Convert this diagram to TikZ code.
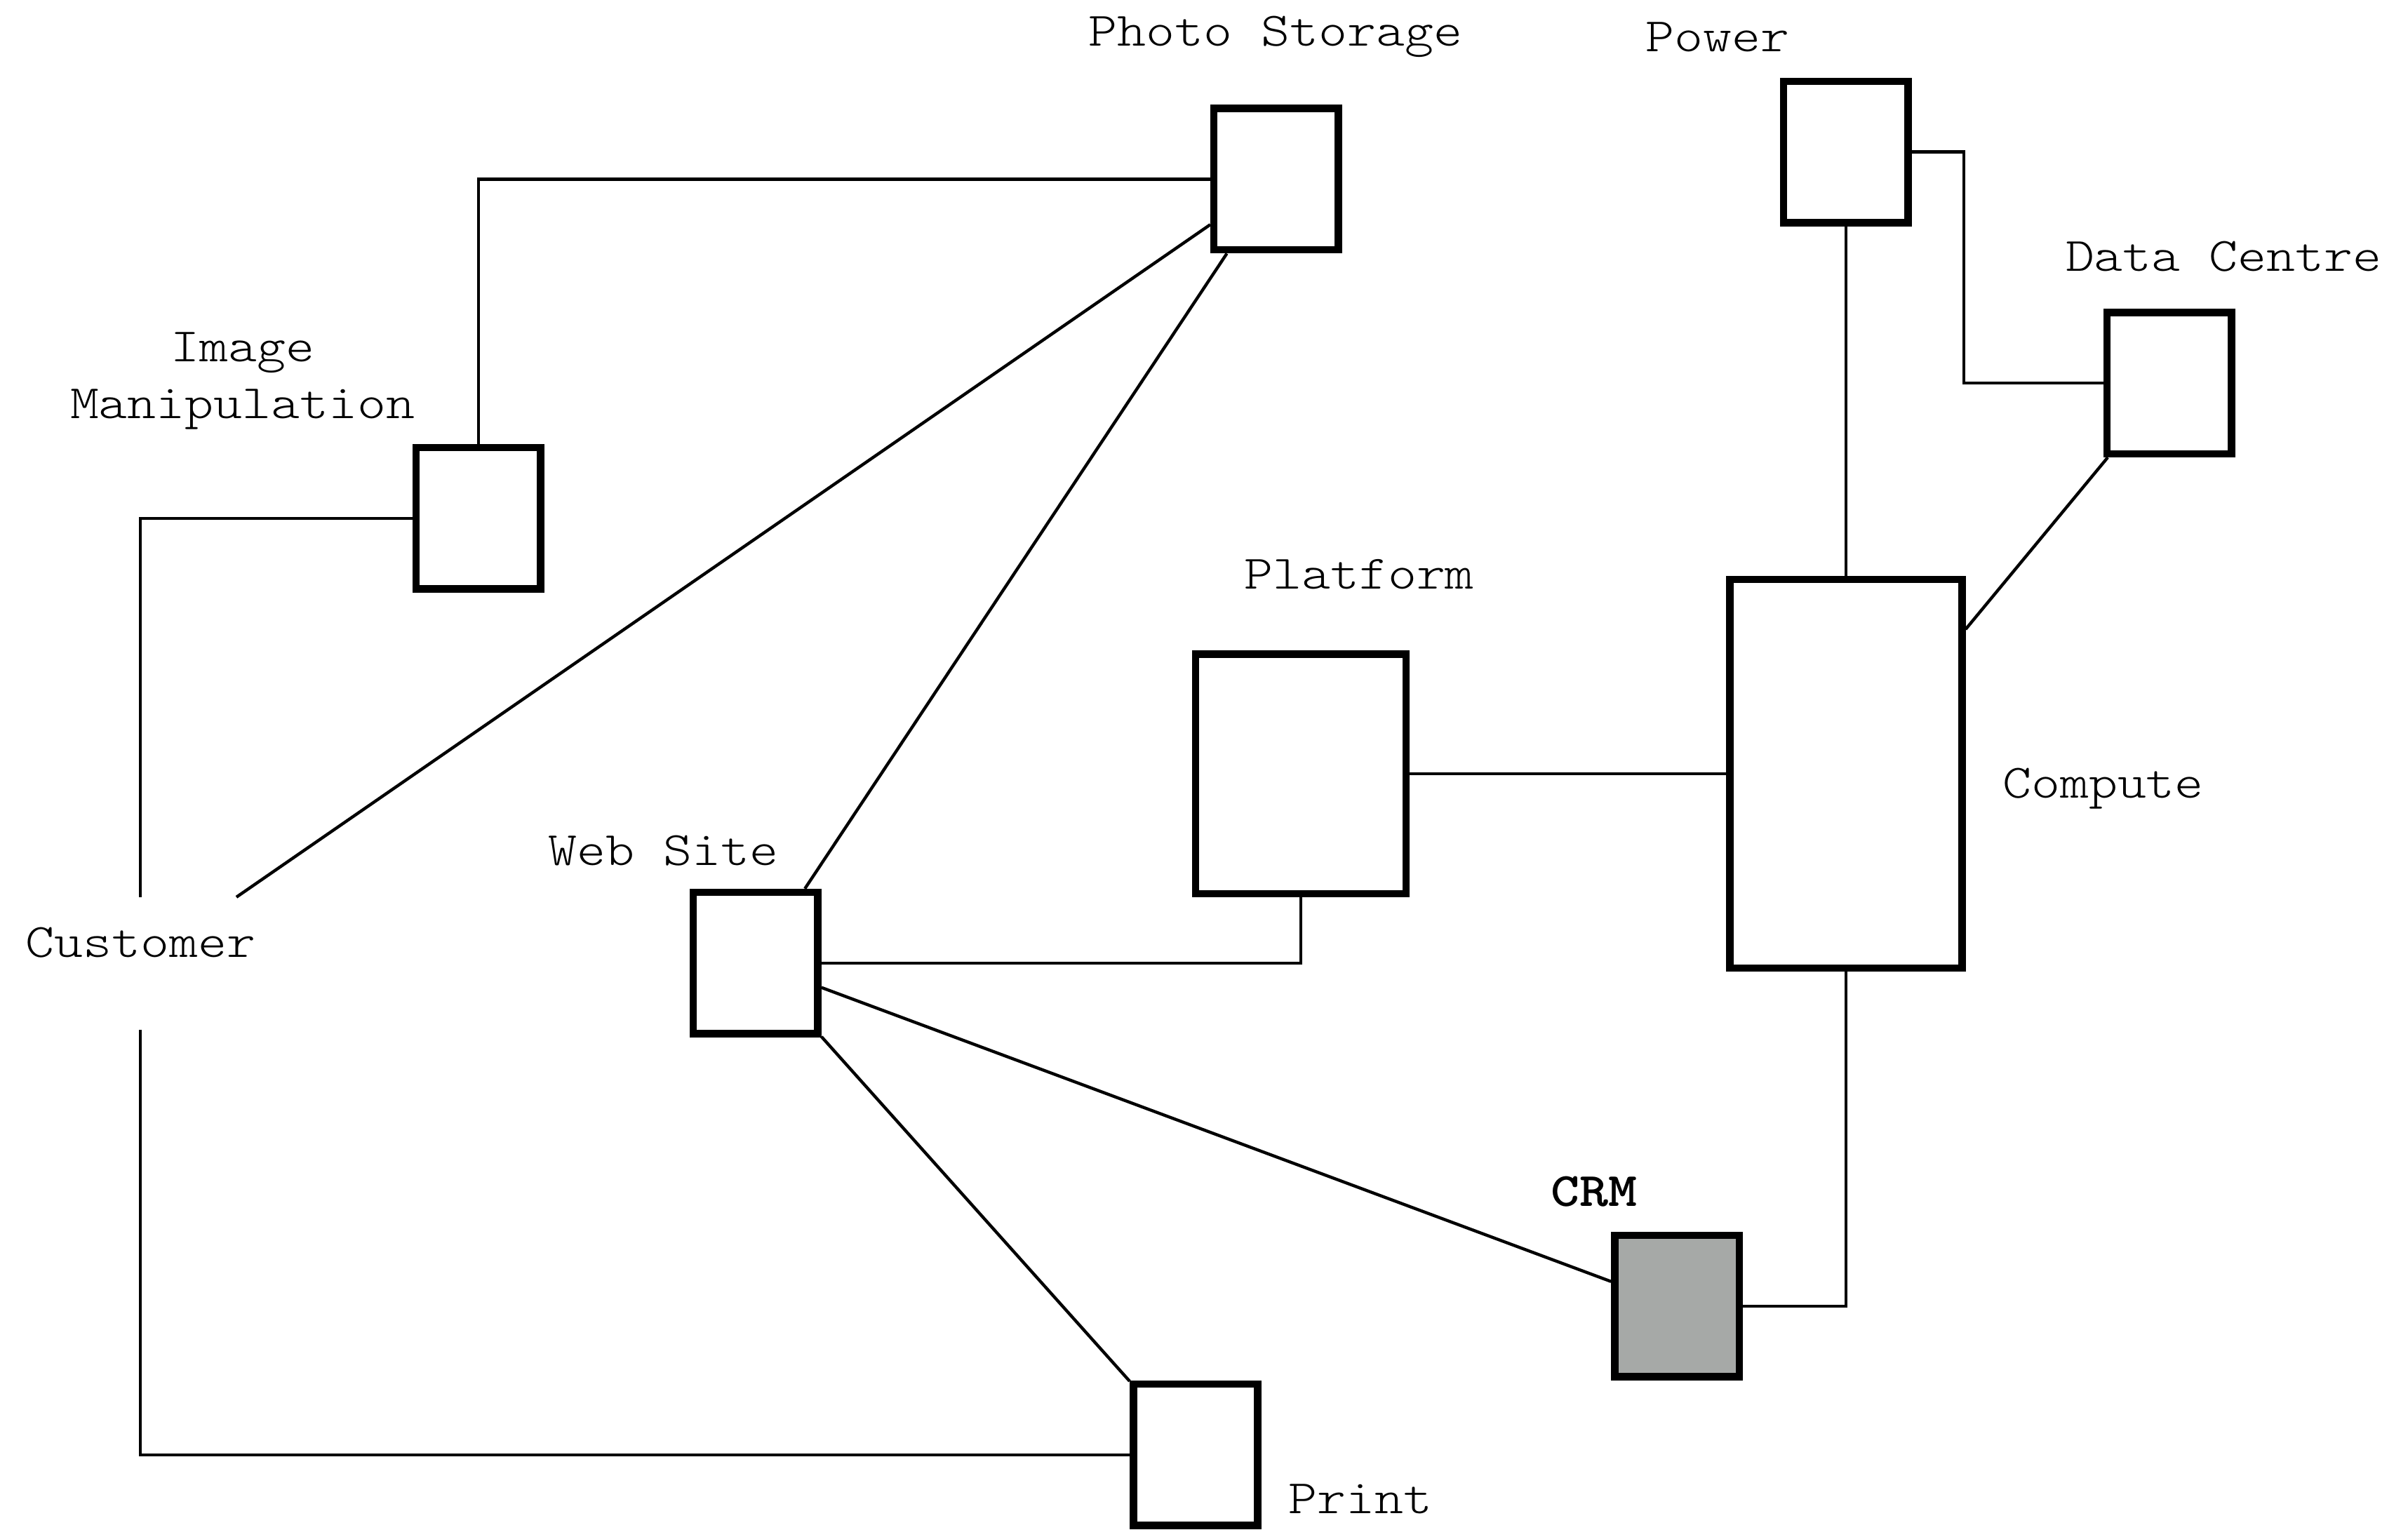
\documentclass[tikz,border=0pt]{standalone}
\usepackage{fontspec}
\newfontfamily\labelfont{Latin Modern Mono Light}[FakeStretch=1.143]
\usetikzlibrary{calc}
\definecolor{crmgray}{RGB}{166,169,167}
\begin{document}
\begin{tikzpicture}[x=0.01cm,y=-0.01cm,
  box/.style={draw=black, line width=0.048cm, fill=white, minimum width=0.81cm, minimum height=0.92cm, inner sep=0pt},
  conn/.style={line width=0.02cm, draw=black},
  lbl/.style={font=\labelfont\fontsize{8.87pt}{10.53pt}\selectfont, anchor=base, inner sep=0pt},
]
\useasboundingbox (0,0) rectangle (1568,1000.6);
% boxes
\node[box] (photo) at (831,116.7) {};
\node[box] (power) at (1202,99) {};
\node[box] (datac) at (1412.5,249.5) {};
\node[box] (image) at (311.5,337.5) {};
\node[box, minimum width=1.37cm, minimum height=1.56cm] (platform) at (847,504) {};
\node[box, minimum width=1.51cm, minimum height=2.53cm] (compute) at (1202,504) {};
\node[box] (website) at (492,627.2) {};
\node[box, fill=crmgray] (crm) at (1092,850.6) {};
\node[box] (print) at (778.5,947.5) {};
\node[font=\labelfont\fontsize{8.87pt}{10.53pt}\selectfont, minimum width=1.6cm, minimum height=0.85cm, inner sep=0pt, text height=0.2cm, text depth=0.278cm] (customer) at (91.5,627.5) {Customer};
% labels
\node[lbl] (lphoto) at (830.5,30) {Photo Storage};
\node[lbl] (lpower) at (1118.5,33.5) {Power};
\node[lbl] (ldatac) at (1448,176.5) {Data Centre};
\node[lbl, align=center] (limage) at (158,272.5) {Image\\Manipulation};
\node[lbl] (lplatform) at (885,383.5) {Platform};
\node[lbl] (lcompute) at (1369.5,519.5) {Compute};
\node[lbl] (lwebsite) at (432,563.5) {Web Site};
\node[lbl, font=\labelfont\bfseries\fontsize{8.87pt}{10.53pt}\selectfont] (lcrm) at (1038,785.5) {CRM};
\node[lbl] (lprint) at (886,985.5) {Print};
% connectors
\draw[conn] (photo.west) -| (image.north);
\draw[conn] (image.west) -| (customer.north);
\draw[conn] (customer) -- (photo);
\draw[conn] (website) -- (photo);
\draw[conn] (website.east) -| (platform.south);
\draw[conn] (platform.east) -- (compute.west);
\draw[conn] (website) -- (crm);
\draw[conn] (website) -- (print);
\draw[conn] (customer.south) |- (print.west);
\draw[conn] (crm.east) -| (compute.south);
\draw[conn] (power.south) -- (compute.north);
\draw[conn] (power.east) -- ++(34,0) |- (datac.west);
\draw[conn] (datac) -- (compute);
\end{tikzpicture}
\end{document}
